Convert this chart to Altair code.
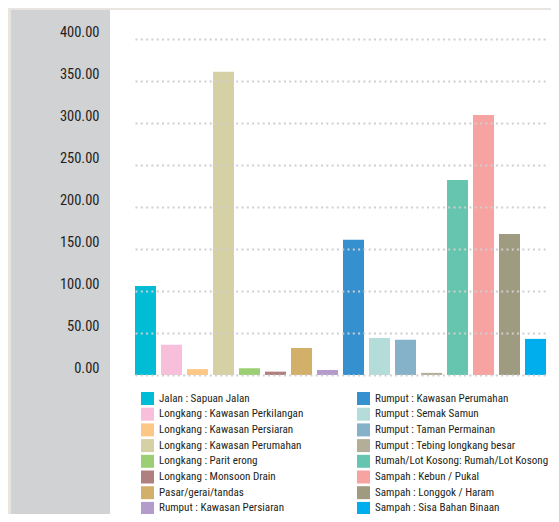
import altair as alt
import pandas as pd

categories = [
    "Jalan : Sapuan Jalan",
    "Longkang : Kawasan Perkilangan",
    "Longkang : Kawasan Persiaran",
    "Longkang : Kawasan Perumahan",
    "Longkang : Parit erong",
    "Longkang : Monsoon Drain",
    "Pasar/gerai/tandas",
    "Rumput : Kawasan Persiaran",
    "Rumput : Kawasan Perumahan",
    "Rumput : Semak Samun",
    "Rumput : Taman Permainan",
    "Rumput : Tebing longkang besar",
    "Rumah/Lot Kosong: Rumah/Lot Kosong",
    "Sampah : Kebun / Pukal",
    "Sampah : Longgok / Haram",
    "Sampah : Sisa Bahan Binaan",
]
values = [106, 36, 7, 361, 8, 4, 32, 6, 161, 44, 42, 2.5, 232, 309.5, 168, 43]
colors = [
    "#00bcd4", "#f7bfd9", "#fdc886", "#d6d1a4", "#9ccf74", "#b08080",
    "#d2b06a", "#b39bcc", "#3590d0", "#b4ddd9", "#85b2c9", "#b2ae97",
    "#66c5ae", "#f7a3a1", "#9e9b80", "#00aeee",
]
y_ticks = [0, 50, 100, 150, 200, 250, 300, 350, 400]

df = pd.DataFrame({"cat": categories, "val": values})

FONT = "Roboto Condensed"

strip = alt.Chart(pd.DataFrame({"a": [0]})).mark_rect(color="#d1d2d4").encode(
    x=alt.value(-99), x2=alt.value(0), y=alt.value(0), y2=alt.value(504)
)

bars = alt.Chart(df).mark_bar().encode(
    x=alt.X("cat:N", sort=None, axis=None,
            scale=alt.Scale(range=[25, 436], paddingInner=0.192, paddingOuter=0)),
    y=alt.Y("val:Q",
            scale=alt.Scale(domain=[0, 400], range=[365, 29], nice=False),
            axis=alt.Axis(values=y_ticks, format=".2f", title=None, domain=False,
                          ticks=False, tickSize=0, labelPadding=11, zindex=2,
                          labelFont=FONT, labelFontSize=14.5, labelColor="#231f20",
                          labelBaseline="alphabetic", labelOffset=-3,
                          grid=True, gridColor="#cfcfcf", gridWidth=2,
                          gridDash=[2, 3.3])),
    color=alt.Color("cat:N", sort=None,
                    scale=alt.Scale(domain=categories, range=colors),
                    legend=alt.Legend(title=None, columns=2,
                                      orient="none", legendX=31, legendY=382,
                                      symbolType="square", symbolSize=169,
                                      symbolStrokeWidth=0, labelFont=FONT,
                                      labelFontSize=11.1, labelColor="#231f20",
                                      labelOffset=5, rowPadding=2.7,
                                      columnPadding=53, padding=0,
                                      labelLimit=300)),
)

chart = alt.layer(strip, bars).properties(
    width=441, height=504,
    autosize=alt.AutoSizeParams(type="none"),
    padding={"left": 102, "top": 2, "right": 0, "bottom": 0},
    background="#e8e5e0",
).configure_view(fill="white", stroke=None)

chart.save("out.html", embed_options={"renderer": "svg", "actions": False})
